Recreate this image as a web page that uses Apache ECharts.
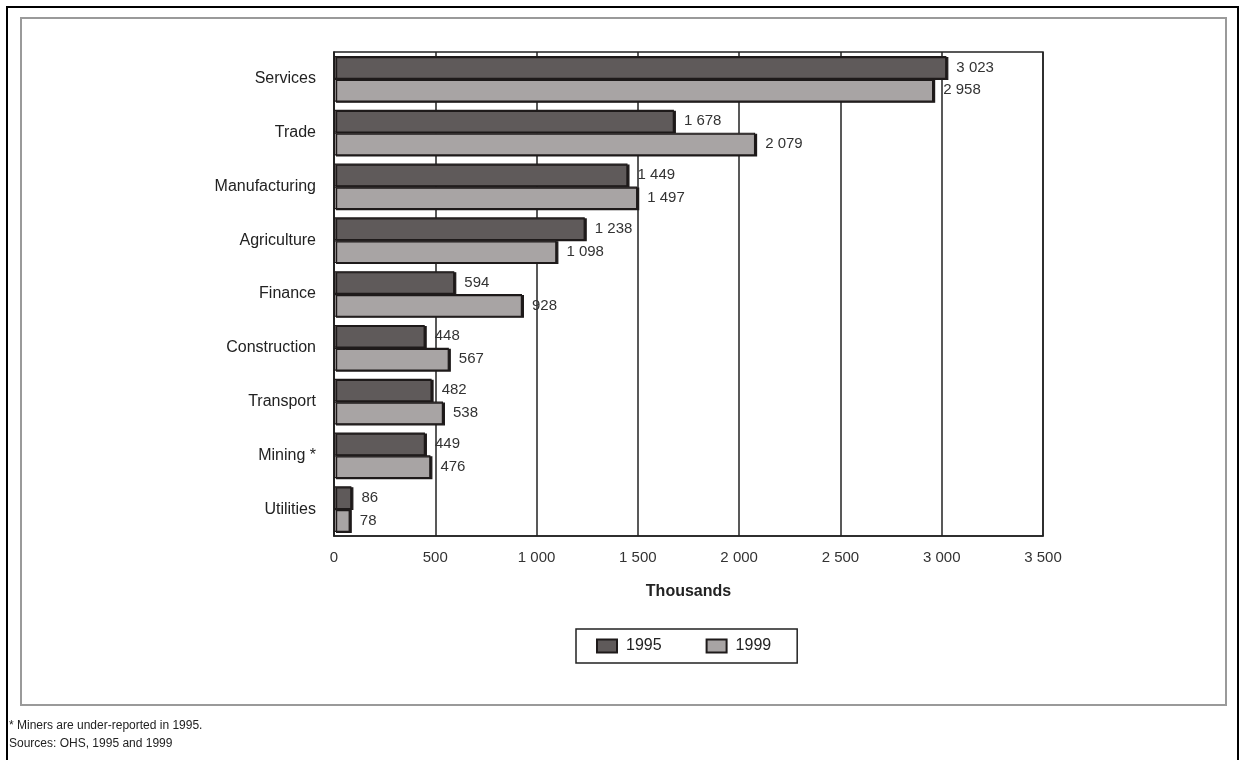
<!DOCTYPE html>
<html>
<head>
<meta charset="utf-8">
<script src="https://cdn.jsdelivr.net/npm/echarts@6/dist/echarts.min.js"></script>
<style>
  html, body { margin: 0; padding: 0; background: #fff; }
  #chart { width: 1241px; height: 760px; }
</style>
</head>
<body>
<div id="chart"></div>
<script>
// Employment by sector, thousands
const sectors = ['Services', 'Trade', 'Manufacturing', 'Agriculture', 'Finance',
                 'Construction', 'Transport', 'Mining *', 'Utilities'];
const values1995 = [3023, 1678, 1449, 1238, 594, 448, 482, 449, 86];
const values1999 = [2958, 2079, 1497, 1098, 928, 567, 538, 476, 78];
const xTicks = [0, 500, 1000, 1500, 2000, 2500, 3000, 3500];
const footnotes = ['* Miners are under-reported in 1995.', 'Sources: OHS, 1995 and 1999'];

const FONT = '"Liberation Sans", Arial, sans-serif';
const fmt = v => String(v).replace(/\B(?=(\d{3})+(?!\d))/g, ' ');

function barSeries(name, data, fill) {
  return {
    name: name,
    type: 'bar',
    data: data,
    barGap: '0%',
    barCategoryGap: '15%',
    itemStyle: {
      color: fill,
      borderColor: '#1e1a1a',
      borderWidth: 1.2,
      shadowColor: '#1e1a1a',
      shadowOffsetX: 2,
      shadowOffsetY: 1,
      shadowBlur: 0
    },
    label: {
      show: true,
      position: 'right',
      distance: 10,
      color: '#333',
      fontFamily: FONT,
      fontSize: 15,
      formatter: p => fmt(p.value)
    },
    emphasis: { disabled: true }
  };
}

const chart = echarts.init(document.getElementById('chart'), null, { renderer: 'canvas' });
chart.setOption({
  animation: false,
  backgroundColor: '#fff',
  grid: {
    left: 334, right: 198, top: 52, bottom: 224,
    show: true, borderColor: '#222', borderWidth: 1.5
  },
  xAxis: {
    type: 'value',
    min: xTicks[0],
    max: xTicks[xTicks.length - 1],
    interval: 500,
    name: 'Thousands',
    nameLocation: 'middle',
    nameGap: 48,
    nameTextStyle: { fontFamily: FONT, fontSize: 16, fontWeight: 'bold', color: '#222' },
    axisLine: { show: true, lineStyle: { color: '#222', width: 1.5 } },
    axisTick: { show: false },
    axisLabel: {
      margin: 14, color: '#333', fontFamily: FONT, fontSize: 15,
      formatter: v => fmt(v)
    },
    splitLine: { show: true, lineStyle: { color: '#222', width: 1.5 } }
  },
  yAxis: {
    type: 'category',
    data: sectors,
    inverse: true,
    axisLine: { show: true, lineStyle: { color: '#222', width: 1.5 } },
    axisTick: { show: false },
    axisLabel: { margin: 18, color: '#222', fontFamily: FONT, fontSize: 16 }
  },
  legend: {
    data: ['1995', '1999'],
    icon: 'rect',
    left: 576, top: 629,
    padding: [9, 26, 9, 20],
    itemGap: 44,
    itemWidth: 20,
    itemHeight: 13,
    borderColor: '#222',
    borderWidth: 1.5,
    textStyle: { fontFamily: FONT, fontSize: 16, color: '#222', padding: [0, 0, 0, 4] }
  },
  series: [
    barSeries('1995', values1995, '#5f5a5a'),
    barSeries('1999', values1999, '#a8a4a4')
  ],
  graphic: [
    { type: 'rect', shape: { x: 7, y: 7, width: 1231, height: 770 },
      style: { fill: 'none', stroke: '#000', lineWidth: 2 }, silent: true },
    { type: 'rect', shape: { x: 21, y: 18, width: 1205, height: 687 },
      style: { fill: 'none', stroke: '#9a9a9a', lineWidth: 2 }, silent: true },
    { type: 'text', left: 9, top: 720,
      style: { text: footnotes[0], font: '12px ' + FONT, fill: '#222' } },
    { type: 'text', left: 9, top: 738,
      style: { text: footnotes[1], font: '12px ' + FONT, fill: '#222' } }
  ]
});
</script>
</body>
</html>
